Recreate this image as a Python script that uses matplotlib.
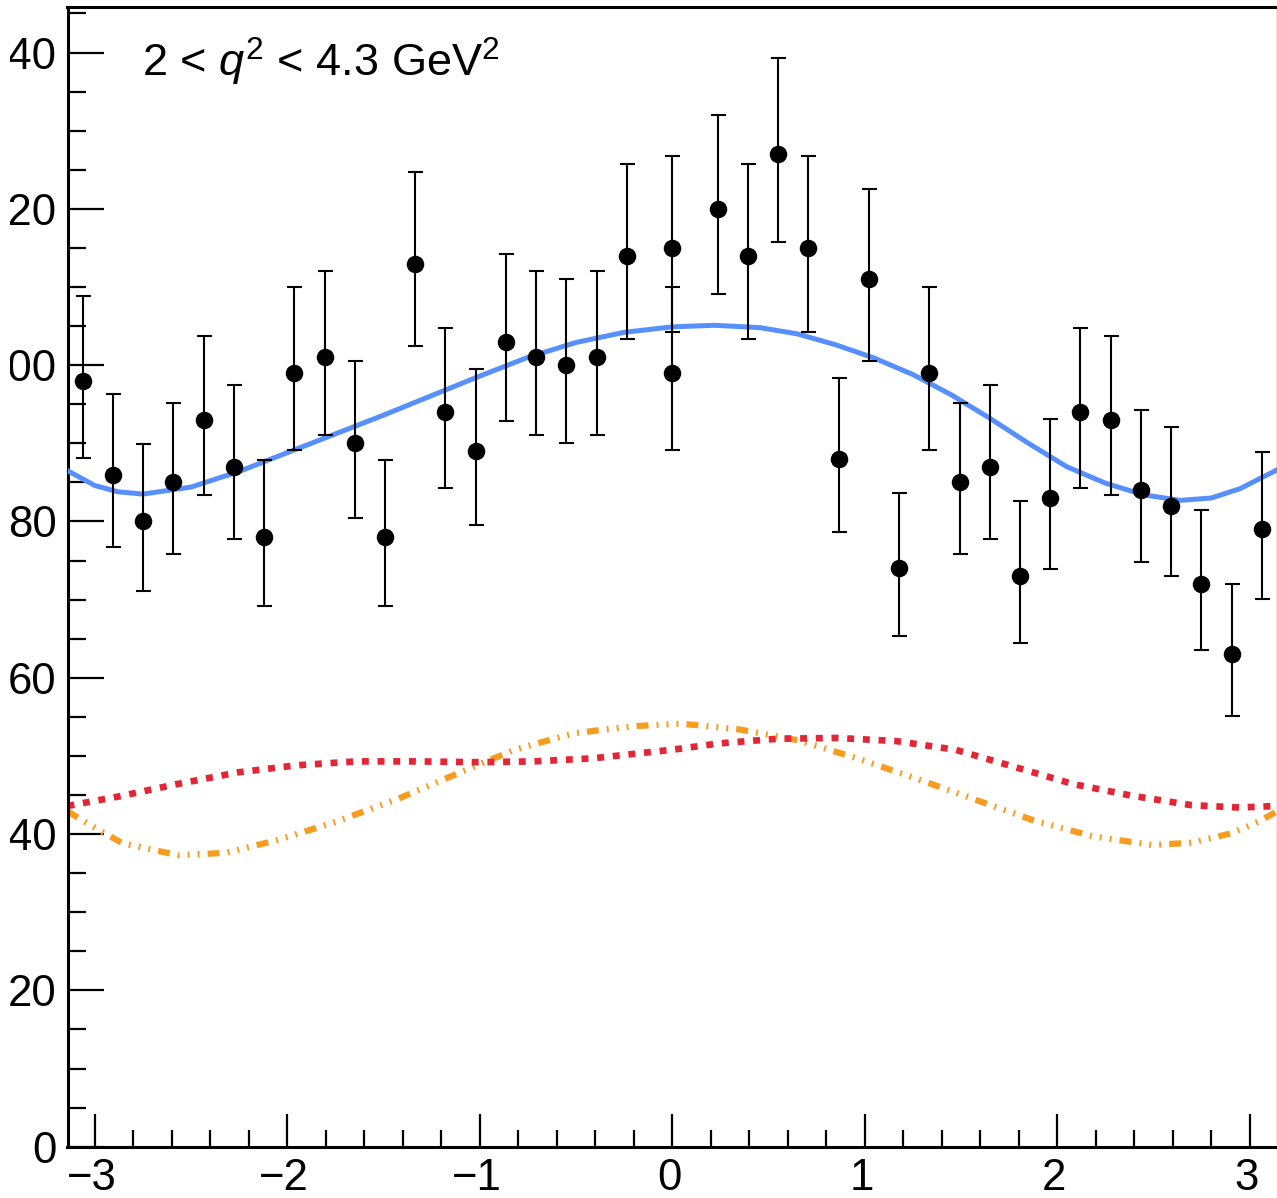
import matplotlib
matplotlib.use("Agg")
import matplotlib.pyplot as plt
from matplotlib.ticker import MultipleLocator
from matplotlib.transforms import ScaledTranslation, Bbox, TransformedBbox, IdentityTransform

plt.rcParams['font.family'] = ['Liberation Sans', 'DejaVu Sans']
plt.rcParams['mathtext.fontset'] = 'custom'
plt.rcParams['mathtext.rm'] = 'Liberation Sans'
plt.rcParams['mathtext.it'] = 'Liberation Sans:italic'
plt.rcParams['lines.scale_dashes'] = False

# ---------------- data ----------------
x_data = [-3.0631, -2.9060, -2.7489, -2.5918, -2.4347, -2.2777, -2.1206, -1.9635,
          -1.8064, -1.6493, -1.4923, -1.3352, -1.1781, -1.0210, -0.8639, -0.7069,
          -0.5498, -0.3927, -0.2356, 0.0, 0.0, 0.2356, 0.3927, 0.5498, 0.7069,
          0.8639, 1.0210, 1.1781, 1.3352, 1.4923, 1.6493, 1.8064, 1.9635, 2.1206,
          2.2777, 2.4347, 2.5918, 2.7489, 2.9060, 3.0631]
y_data = [98, 86, 80, 85, 93, 87, 78, 99, 101, 90, 78, 113, 94, 89, 103, 101,
          100, 101, 114, 115, 99, 120, 114, 127, 115, 88, 111, 74, 99, 85, 87,
          73, 83, 94, 93, 84, 82, 72, 63, 79]
err_lo = [9.9, 9.3, 8.9, 9.2, 9.6, 9.3, 8.8, 9.9, 10.0, 9.5, 8.8, 10.6, 9.7, 9.4,
          10.1, 10.0, 10.0, 10.0, 10.7, 10.7, 9.9, 10.9, 10.7, 11.3, 10.7, 9.4,
          10.5, 8.6, 9.9, 9.2, 9.3, 8.5, 9.1, 9.7, 9.6, 9.2, 9.0, 8.5, 7.9, 8.9]
err_hi = [10.9, 10.3, 9.9, 10.2, 10.7, 10.4, 9.9, 11.0, 11.1, 10.5, 9.9, 11.7,
          10.7, 10.5, 11.2, 11.1, 11.0, 11.1, 11.7, 11.8, 11.0, 12.0, 11.7, 12.3,
          11.8, 10.4, 11.6, 9.6, 11.0, 10.2, 10.4, 9.6, 10.1, 10.7, 10.7, 10.2,
          10.1, 9.5, 9.0, 9.9]

# total fit (blue, solid)
x_fit = [-3.1416, -3.0, -2.88, -2.75, -2.5, -2.25, -2.0, -1.75, -1.5, -1.25,
         -1.0, -0.75, -0.5, -0.25, 0.0, 0.22, 0.456, 0.65, 0.85, 1.05, 1.25,
         1.45, 1.65, 1.85, 2.05, 2.25, 2.45, 2.64, 2.80, 2.95, 3.1416]
y_fit = [86.5, 84.6, 83.8, 83.5, 84.4, 86.4, 88.8, 91.2, 93.6, 96.1, 98.6, 101.0,
         102.9, 104.2, 104.9, 105.1, 104.8, 104.0, 102.6, 100.9, 98.8, 96.2, 93.2,
         90.0, 87.0, 84.9, 83.4, 82.7, 83.0, 84.2, 86.6]

# component 1 (red, dotted)
x_red = [-3.1416, -2.878, -2.571, -2.255, -1.950, -1.643, -1.332, -1.025, -0.718,
         -0.409, 0.002, 0.243, 0.550, 0.857, 1.163, 1.470, 1.777, 2.083, 2.390,
         2.697, 2.946, 3.1416]
y_red = [43.6, 44.8, 46.4, 47.9, 48.8, 49.3, 49.3, 49.2, 49.3, 49.7, 50.8, 51.6,
         52.2, 52.3, 51.9, 50.8, 48.6, 46.4, 44.9, 43.7, 43.4, 43.6]

# component 2 (orange, dash-dot-dot-dot)
x_org = [-3.1416, -2.977, -2.854, -2.566, -2.319, -2.041, -1.744, -1.436, -1.129,
         -0.819, -0.510, -0.204, 0.023, 0.059, 0.346, 0.653, 0.960, 1.268, 1.575,
         1.882, 2.188, 2.495, 2.700, 2.904, 3.046, 3.1416]
y_org = [42.9, 40.5, 38.8, 37.3, 37.6, 39.3, 41.6, 44.4, 47.6, 50.8, 52.9, 53.8,
         54.1, 54.1, 53.4, 52.0, 49.7, 47.1, 44.4, 41.7, 39.7, 38.6, 38.9, 40.1,
         41.6, 42.9]

x_ticks = [-3, -2, -1, 0, 1, 2, 3]
y_ticks = [0, 20, 40, 60, 80, 100, 120, 140]
label_text = r"2 < $q^2$ < 4.3 GeV$^2$"

# ---------------- figure ----------------
W, H = 1277, 1198
fig = plt.figure(figsize=(W / 100, H / 100), dpi=100)
ax = fig.add_axes([67.5 / W, 51.3 / H, 1209.5 / W, 1139.5 / H])

ax.plot(x_org, y_org, color='#f89c20', lw=4.5, dash_capstyle='butt',
        linestyle=(0, (8.6, 5.8, 1.4, 5.8, 1.4, 5.8, 1.4, 5.8)), zorder=2)
ax.plot(x_red, y_red, color='#e42536', lw=4.8, dash_capstyle='butt',
        linestyle=(0, (5.0, 6.3)), zorder=2)
ax.plot(x_fit, y_fit, color='#5790fc', lw=3.6, zorder=3)

ax.errorbar(x_data, y_data, yerr=[err_lo, err_hi], fmt='o', color='black',
            markersize=11.6, elinewidth=1.5, capsize=5.4, capthick=1.5,
            zorder=4)

ax.set_xlim(-3.1416, 3.1416)
ax.set_ylim(0, 145.8)

ax.set_xticks(x_ticks)
ax.set_yticks(y_ticks)
ax.xaxis.set_minor_locator(MultipleLocator(0.2))
ax.yaxis.set_minor_locator(MultipleLocator(5))
ax.set_xticklabels([str(v).replace('-', '\u2212') for v in x_ticks])
ax.set_yticklabels([str(v) for v in y_ticks])

ax.tick_params(axis='both', which='both', direction='in', top=False,
               right=False, labelsize=31.5, width=1.6, color='black')
ax.tick_params(axis='y', which='major', length=26, pad=8)
ax.tick_params(axis='y', which='minor', length=13)
ax.tick_params(axis='x', which='major', length=24, pad=8)
ax.tick_params(axis='x', which='minor', length=12)

shift = ScaledTranslation(-3 / 100, 0, fig.dpi_scale_trans)
for lab in ax.get_xticklabels():
    lab.set_transform(lab.get_transform() + shift)

# the reference image is cropped at its left edge: hide what lies left of it
crop = TransformedBbox(Bbox.from_extents(9.5, 0, W, H), IdentityTransform())
for lab in ax.get_yticklabels():
    lab.set_clip_box(crop)
    lab.set_clip_on(True)

for s in ['left', 'bottom', 'top']:
    ax.spines[s].set_linewidth(2.2)
ax.spines['right'].set_linewidth(1.0)
ax.spines['right'].set_color('#888888')

ax.text(142 / W, 1 - 77 / H, label_text, transform=fig.transFigure,
        fontsize=32.5, ha='left', va='baseline')

fig.savefig('out.png', dpi=100)
